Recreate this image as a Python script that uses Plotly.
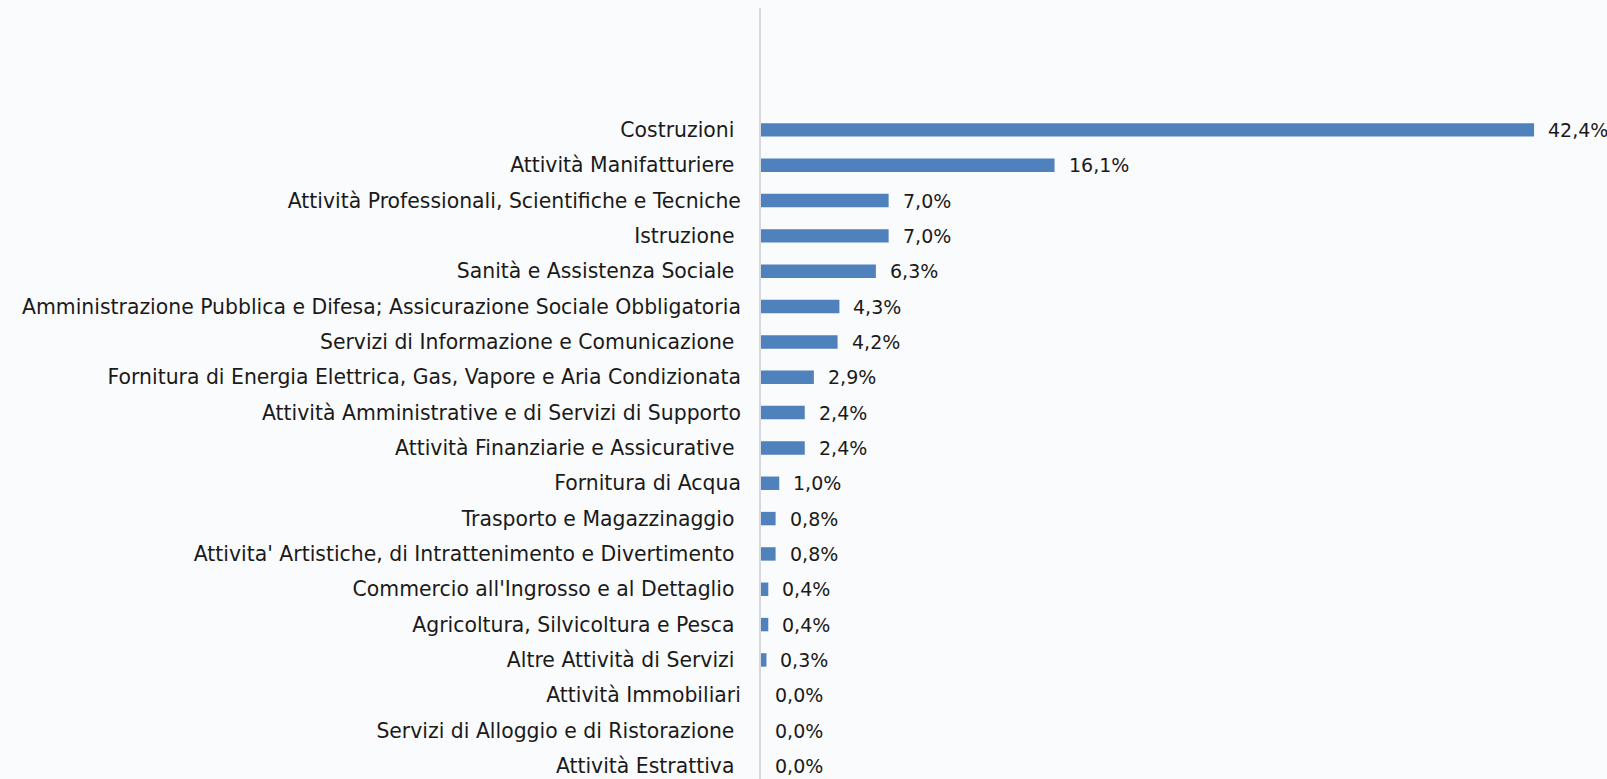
import plotly.graph_objects as go

NB = "\u00a0"
categories = [
    "Costruzioni" + NB,
    "Attività Manifatturiere" + NB,
    "Attività Professionali, Scientifiche e Tecniche",
    "Istruzione" + NB,
    "Sanità e Assistenza Sociale" + NB,
    "Amministrazione Pubblica e Difesa; Assicurazione Sociale Obbligatoria",
    "Servizi di Informazione e Comunicazione" + NB,
    "Fornitura di Energia Elettrica, Gas, Vapore e Aria Condizionata",
    "Attività Amministrative e di Servizi di Supporto",
    "Attività Finanziarie e Assicurative" + NB,
    "Fornitura di Acqua",
    "Trasporto e Magazzinaggio" + NB,
    "Attivita' Artistiche, di Intrattenimento e Divertimento" + NB,
    "Commercio all'Ingrosso e al Dettaglio" + NB,
    "Agricoltura, Silvicoltura e Pesca" + NB,
    "Altre Attività di Servizi" + NB,
    "Attività Immobiliari",
    "Servizi di Alloggio e di Ristorazione" + NB,
    "Attività Estrattiva" + NB,
]
values = [42.4, 16.1, 7.0, 7.0, 6.3, 4.3, 4.2, 2.9, 2.4, 2.4, 1.0, 0.8, 0.8, 0.4, 0.4, 0.3, 0.0, 0.0, 0.0]
value_labels = [f"{v:.1f}%".replace(".", ",") for v in values]

FONT = "DejaVu Sans"
FS = 20.4
FS_VAL = 19
TXT = "#1a1a1a"

fig = go.Figure()
fig.add_trace(go.Bar(
    x=values, y=categories, orientation="h",
    marker=dict(color="#4f81bd", line=dict(width=0)),
    width=0.38,
    hoverinfo="skip",
))

for v, c, t in zip(values, categories, value_labels):
    fig.add_annotation(x=v, y=c, text=t, showarrow=False, xanchor="left",
                       yanchor="middle", xshift=12,
                       font=dict(family=FONT, size=FS_VAL, color=TXT))

fig.update_layout(
    width=1607, height=779,
    margin=dict(l=761, r=0, t=8, b=0, autoexpand=False),
    paper_bgcolor="#fafbfc", plot_bgcolor="rgba(0,0,0,0)",
    showlegend=False,
    font=dict(family=FONT, size=FS, color=TXT),
    xaxis=dict(range=[0, 46.4], visible=False, fixedrange=True),
    yaxis=dict(
        type="category", categoryorder="array", categoryarray=categories,
        range=[18.37, -3.45], showgrid=False, zeroline=False,
        showline=True, linecolor="#d6d8db", linewidth=2,
        ticks="", ticklabelstandoff=14, automargin=False,
        tickfont=dict(family=FONT, size=FS, color=TXT),
    ),
)

fig.write_html("out.html", config={"displayModeBar": False},
               post_script="document.body.style.margin='0';document.body.style.overflow='hidden';")
